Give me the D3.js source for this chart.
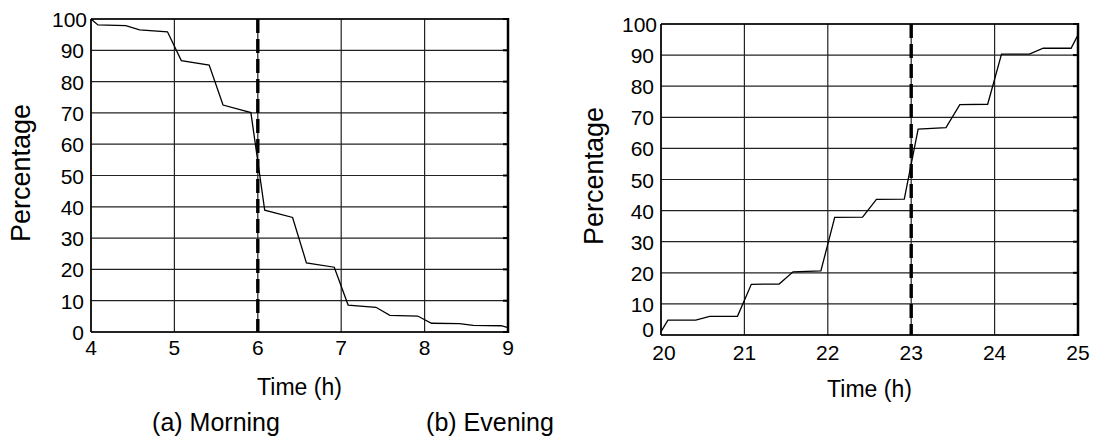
<!DOCTYPE html>
<html>
<head>
<meta charset="utf-8">
<script src="https://cdn.jsdelivr.net/npm/d3@7"></script>
<style>
    body { margin: 0; background: #fff; }
    text { font-family: "Liberation Sans", Arial, sans-serif; fill: #000; }
</style>
</head>
<body>
<svg id="chart" width="1093" height="447"></svg>
<script>
// values
let morningTime = [4, 4.083, 4.417, 4.583, 4.917, 5.083, 5.417, 5.583, 5.917, 6.083, 6.417, 6.583, 6.917, 7.083, 7.417, 7.583, 7.917, 8.083, 8.417, 8.583, 8.917, 9];
let morningPct = [100, 98.1, 97.9, 96.5, 95.9, 86.7, 85.3, 72.5, 70.1, 38.9, 36.6, 22.1, 20.7, 8.6, 7.9, 5.3, 5.1, 2.8, 2.7, 2.1, 2.0, 1.4];
let eveningTime = [20, 20.083, 20.417, 20.583, 20.917, 21.083, 21.417, 21.583, 21.917, 22.083, 22.417, 22.583, 22.917, 23.083, 23.417, 23.583, 23.917, 24.083, 24.417, 24.583, 24.917, 25];
let eveningPct = [1.1, 4.8, 4.8, 6.0, 6.0, 16.3, 16.4, 20.3, 20.6, 37.8, 37.9, 43.6, 43.7, 66.2, 66.7, 74.1, 74.2, 90.3, 90.3, 92.2, 92.2, 96.5];
let morningTicks = [4, 5, 6, 7, 8, 9];
let eveningTicks = [20, 21, 22, 23, 24, 25];
let pctTicks = [0, 10, 20, 30, 40, 50, 60, 70, 80, 90, 100];
let morningMark = 6;
let eveningMark = 23;

let svg = d3.select("#chart");

function drawPanel(p) {
    let x = d3.scaleLinear().domain(d3.extent(p.ticks)).range([p.left, p.right]);
    let y = d3.scaleLinear().domain([0, 100]).range([p.bottom, p.top]);
    let g = svg.append("g");

    // grid
    g.selectAll(".hgrid").data(pctTicks).enter().append("line")
        .attr("x1", p.left).attr("x2", p.right)
        .attr("y1", d => y(d)).attr("y2", d => y(d))
        .attr("stroke", "#222").attr("stroke-width", 1.2);
    g.selectAll(".vgrid").data(p.ticks).enter().append("line")
        .attr("y1", p.top).attr("y2", p.bottom)
        .attr("x1", d => x(d)).attr("x2", d => x(d))
        .attr("stroke", "#222").attr("stroke-width", 1.2);

    // small ticks on the right border
    g.selectAll(".rtick").data(pctTicks).enter().append("line")
        .attr("x1", p.right - 5).attr("x2", p.right)
        .attr("y1", d => y(d)).attr("y2", d => y(d))
        .attr("stroke", "#000").attr("stroke-width", 2);

    // frame
    g.append("line").attr("x1", p.left).attr("x2", p.right).attr("y1", p.top).attr("y2", p.top)
        .attr("stroke", "#000").attr("stroke-width", 1.5);
    g.append("line").attr("x1", p.left).attr("x2", p.right).attr("y1", p.bottom).attr("y2", p.bottom)
        .attr("stroke", "#000").attr("stroke-width", 1.5);
    g.append("line").attr("x1", p.left).attr("x2", p.left).attr("y1", p.top).attr("y2", p.bottom)
        .attr("stroke", "#000").attr("stroke-width", 1.5);
    g.append("line").attr("x1", p.right).attr("x2", p.right).attr("y1", p.top - 1).attr("y2", p.bottom + 1)
        .attr("stroke", "#000").attr("stroke-width", 2.5);

    // dashed marker
    g.append("line")
        .attr("x1", x(p.mark)).attr("x2", x(p.mark))
        .attr("y1", p.top).attr("y2", p.bottom)
        .attr("stroke", "#000").attr("stroke-width", 3.4)
        .attr("stroke-dasharray", "14,6");

    // curve
    let line = d3.line().x(d => x(d[0])).y(d => y(d[1]));
    g.append("path")
        .datum(d3.zip(p.time, p.pct))
        .attr("fill", "none").attr("stroke", "#000").attr("stroke-width", 1.3)
        .attr("d", line);

    // tick labels
    g.selectAll(".ylab").data(pctTicks).enter().append("text")
        .attr("x", d => p.left - (d === 100 ? 4 : 7))
        .attr("y", d => y(d) + 8 - (p.zeroShift && d === 0 ? 6 : 0))
        .attr("text-anchor", "end").attr("font-size", 21)
        .text(d => d);
    g.selectAll(".xlab").data(p.ticks).enter().append("text")
        .attr("x", (d, i) => x(d) + (p.zeroShift && i === 0 ? 3 : 0))
        .attr("y", p.bottom + p.xlabDy)
        .attr("text-anchor", "middle").attr("font-size", 21)
        .text(d => d);

    // axis titles
    g.append("text")
        .attr("transform", "translate(" + p.ytitleX + "," + p.ytitleY + ") rotate(-90)")
        .attr("text-anchor", "middle").attr("font-size", 27)
        .text("Percentage");
    g.append("text")
        .attr("x", (p.left + p.right) / 2).attr("y", p.xtitleY)
        .attr("text-anchor", "middle").attr("font-size", 23)
        .text("Time (h)");
}

drawPanel({
    left: 91, right: 508, top: 19, bottom: 332,
    ticks: morningTicks, time: morningTime, pct: morningPct, mark: morningMark,
    xlabDy: 23, ytitleX: 30, ytitleY: 173, xtitleY: 395, zeroShift: false
});
drawPanel({
    left: 661, right: 1078, top: 24, bottom: 335,
    ticks: eveningTicks, time: eveningTime, pct: eveningPct, mark: eveningMark,
    xlabDy: 25, ytitleX: 603, ytitleY: 176, xtitleY: 397, zeroShift: true
});

// captions
svg.append("text").attr("x", 216).attr("y", 431)
    .attr("text-anchor", "middle").attr("font-size", 25).text("(a) Morning");
svg.append("text").attr("x", 490).attr("y", 431)
    .attr("text-anchor", "middle").attr("font-size", 25).text("(b) Evening");
</script>
</body>
</html>
